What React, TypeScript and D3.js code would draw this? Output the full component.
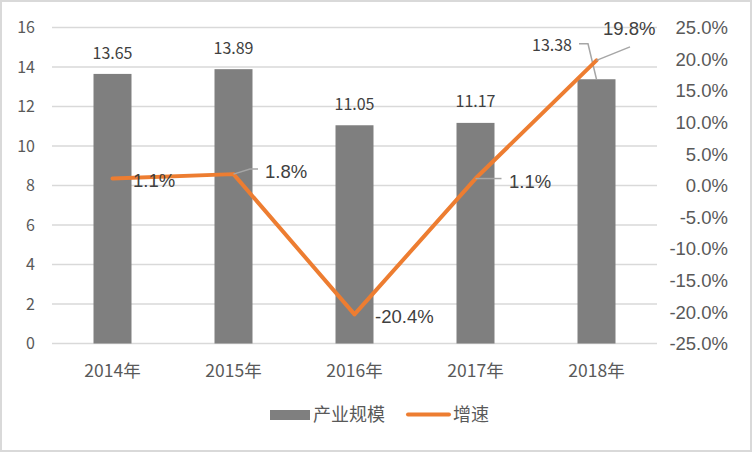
import React from "react";
import * as d3 from "d3";

const categories = ["2014年", "2015年", "2016年", "2017年", "2018年"];
const scaleValues = [13.65, 13.89, 11.05, 11.17, 13.38];
const growthValues = [1.1, 1.8, -20.4, 1.1, 19.8];
const leftTicks = [0, 2, 4, 6, 8, 10, 12, 14, 16];
const rightTicks = [-25, -20, -15, -10, -5, 0, 5, 10, 15, 20, 25];
const legendLabels = ["产业规模", "增速"];

const W = 752, H = 452;
const plotL = 52, plotR = 657, plotT = 27.5, plotB = 343.5;
const CJK = "'Noto Sans CJK SC', 'Noto Sans', sans-serif";
const ARIAL = "'Liberation Sans', Arial, sans-serif";
const TXT = "#595959";
const ORANGE = "#ED7D31";
const BAR = "#7F7F7F";
const GRID = "#D9D9D9";

export default function App() {
  const x = d3.scaleBand().domain(categories).range([plotL, plotR]).paddingInner(0.686).paddingOuter(0.343);
  const yL = d3.scaleLinear().domain([0, 16]).range([plotB, plotT]);
  const yR = d3.scaleLinear().domain([-25, 25]).range([plotB, plotT]);
  const cx = (c: string) => (x(c) as number) + x.bandwidth() / 2;
  const line = d3.line<number>().x((_, i) => cx(categories[i])).y((d) => yR(d));

  const barLabelOffsets = [
    { dx: 0, dy: -21, anchor: "middle" },
    { dx: 0, dy: -21, anchor: "middle" },
    { dx: 0, dy: -21, anchor: "middle" },
    { dx: 0, dy: -21, anchor: "middle" },
    { dx: -24.5, dy: -34, anchor: "end" },
  ];
  const lineLabelOffsets = [
    { dx: 20.5, dy: 2, lead: null },
    { dx: 31.5, dy: -2.5, lead: [[0, 0], [16.5, -5], [24.5, -5]] },
    { dx: 20.5, dy: 2.5, lead: null },
    { dx: 33.5, dy: 2.5, lead: [[0, 0], [26, 0]] },
    { dx: 6.5, dy: -31.5, lead: [[0, 0], [33.5, -13.5]] },
  ];

  return (
    <svg width={W} height={H} style={{ display: "block", position: "absolute", left: 0, top: 0 }}>
      <rect x={1} y={1} width={W - 2} height={H - 2} fill="#fff" stroke={GRID} strokeWidth={2} />
      {leftTicks.map((t) => (
        <line key={t} x1={plotL} x2={plotR} y1={yL(t)} y2={yL(t)} stroke={GRID} strokeWidth={1.5} />
      ))}
      {leftTicks.map((t) => (
        <text key={t} x={35} y={yL(t)} dy="0.35em" textAnchor="end" fontFamily={CJK} fontSize={16} fill={TXT}>{t}</text>
      ))}
      {rightTicks.map((t) => (
        <text key={t} x={728} y={yR(t)} dy="0.36em" textAnchor="end" fontFamily={ARIAL} fontSize={18.5} fill={TXT}>{t.toFixed(1)}%</text>
      ))}
      {categories.map((c, i) => (
        <rect key={c} x={x(c)} y={yL(scaleValues[i])} width={x.bandwidth()} height={plotB - yL(scaleValues[i])} fill={BAR} />
      ))}
      {categories.map((c) => (
        <text key={c} x={cx(c)} y={371} dy="0.35em" textAnchor="middle" fontFamily={CJK} fontSize={17.5} fill={TXT}>{c}</text>
      ))}
      <polyline
        points={`${cx(categories[4]) - 17.5},${yL(scaleValues[4]) - 35.5} ${cx(categories[4]) - 8.5},${yL(scaleValues[4]) - 35.5} ${cx(categories[4])},${yL(scaleValues[4])}`}
        fill="none" stroke="#A6A6A6" strokeWidth={1.5}
      />
      {categories.map((c, i) => (
        <text key={c} x={cx(c) + barLabelOffsets[i].dx} y={yL(scaleValues[i]) + barLabelOffsets[i].dy} dy="0.35em"
          textAnchor={barLabelOffsets[i].anchor as any} fontFamily={CJK} fontSize={16} fill="#404040">{scaleValues[i].toFixed(2)}</text>
      ))}
      <path d={line(growthValues) || ""} fill="none" stroke={ORANGE} strokeWidth={4} strokeLinejoin="round" strokeLinecap="round" />
      {categories.map((c, i) => {
        const px = cx(c), py = yR(growthValues[i]);
        const o = lineLabelOffsets[i];
        return (
          <g key={c}>
            {o.lead && (
              <polyline points={o.lead.map((p) => `${px + p[0]},${py + p[1]}`).join(" ")} fill="none" stroke="#A6A6A6" strokeWidth={1.5} />
            )}
            <text x={px + o.dx} y={py + o.dy} dy="0.35em" fontFamily={ARIAL} fontSize={18.5} fill="#404040">{growthValues[i].toFixed(1)}%</text>
          </g>
        );
      })}
      <rect x={270} y={410} width={40} height={10} fill={BAR} />
      <text x={313} y={415} dy="0.35em" fontFamily={CJK} fontSize={18} fill={TXT}>{legendLabels[0]}</text>
      <line x1={408} x2={449} y1={414.5} y2={414.5} stroke={ORANGE} strokeWidth={4} strokeLinecap="round" />
      <text x={453} y={415} dy="0.35em" fontFamily={CJK} fontSize={18} fill={TXT}>{legendLabels[1]}</text>
    </svg>
  );
}
